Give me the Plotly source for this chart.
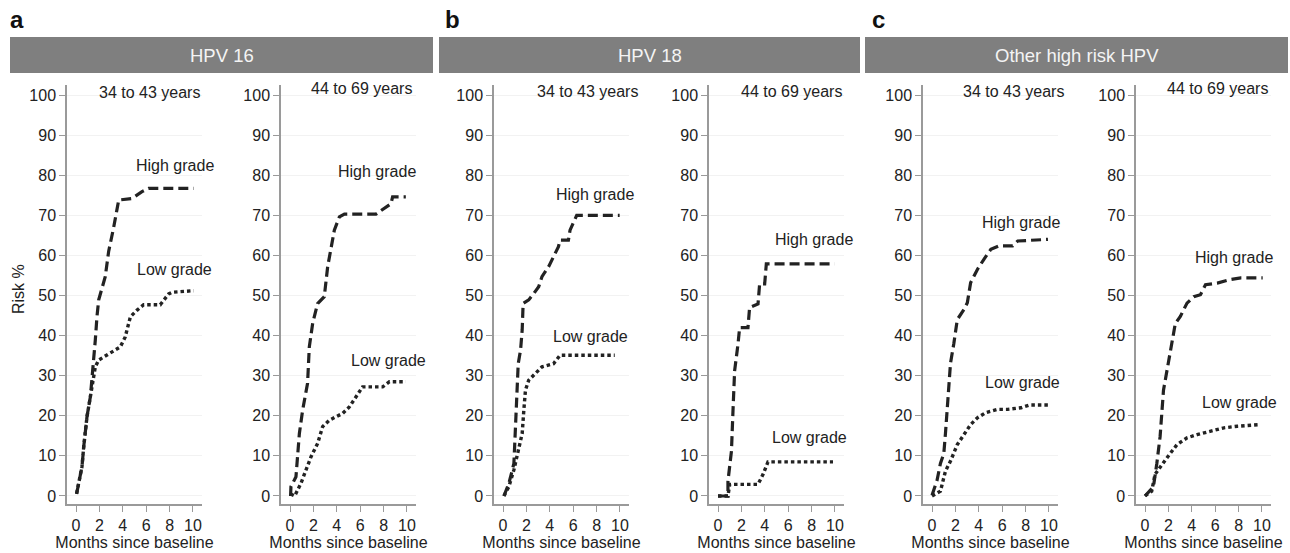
import plotly.graph_objects as go

# ---------------- data ----------------
panel_letters = ["a", "b", "c"]
panel_titles = ["HPV 16", "HPV 18", "Other high risk HPV"]
age_groups = ["34 to 43 years", "44 to 69 years"]
x_ticks = [0, 2, 4, 6, 8, 10]
y_ticks = [0, 10, 20, 30, 40, 50, 60, 70, 80, 90, 100]

# HPV 16, 34-43
hpv16_young_high_x = [0.05, 0.23, 0.51, 0.66, 0.94, 1.23, 1.51, 1.65, 1.79, 1.94, 2.5, 2.79, 3.22, 3.65, 4.79, 5.64, 6.2, 10.06]
hpv16_young_high_y = [0.5, 3.1, 7.3, 12.3, 19.8, 24.8, 33.0, 38.9, 44.7, 48.9, 54.7, 61.0, 67.0, 73.8, 74.2, 75.9, 76.7, 76.7]
hpv16_young_low_x = [0.05, 0.23, 0.51, 0.66, 0.94, 1.23, 1.51, 1.65, 1.94, 2.79, 3.79, 4.2, 4.65, 5.2, 5.78, 7.2, 7.92, 8.2, 10.06]
hpv16_young_low_y = [0.6, 3.1, 7.3, 12.3, 19.8, 24.8, 29.8, 32.2, 33.9, 35.5, 37.2, 39.6, 44.7, 46.3, 47.7, 47.7, 50.4, 50.8, 51.2]
# HPV 16, 44-69
hpv16_old_high_x = [0.05, 0.08, 0.51, 0.8, 1.08, 1.5, 1.65, 1.94, 2.36, 2.93, 3.22, 3.5, 3.79, 4.22, 4.65, 7.35, 8.06, 8.63, 8.77, 9.9]
hpv16_old_high_y = [0.0, 2.3, 4.8, 15.6, 21.4, 28.1, 37.2, 43.1, 48.0, 49.7, 57.2, 62.2, 66.3, 69.6, 70.3, 70.3, 71.7, 72.9, 74.6, 74.6]
hpv16_old_low_x = [0.05, 0.4, 0.94, 1.37, 1.8, 2.36, 2.79, 3.36, 4.5, 5.07, 5.64, 6.2, 7.92, 8.5, 9.9]
hpv16_old_low_y = [0.5, 0.0, 3.2, 6.5, 9.8, 13.1, 17.3, 18.9, 20.6, 22.2, 24.7, 27.2, 27.2, 28.5, 28.5]
# HPV 18, 34-43
hpv18_young_high_x = [0.08, 0.51, 0.93, 1.07, 1.21, 1.3, 1.5, 1.64, 1.72, 2.2, 2.63, 3.05, 3.33, 3.9, 4.32, 4.74, 4.88, 5.59, 5.73, 6.16, 6.3, 9.97]
hpv18_young_high_y = [0.0, 3.2, 8.1, 17.3, 28.1, 33.0, 36.4, 41.4, 48.0, 48.9, 50.5, 52.2, 54.7, 57.2, 59.7, 62.2, 63.8, 63.8, 66.3, 68.8, 70.0, 70.0]
hpv18_young_low_x = [0.08, 0.51, 0.93, 1.36, 1.64, 1.78, 1.92, 2.2, 2.77, 3.33, 4.32, 4.88, 9.55]
hpv18_young_low_y = [0.0, 2.4, 6.5, 11.5, 15.6, 21.4, 26.4, 28.9, 30.6, 32.2, 33.0, 35.1, 35.1]
# HPV 18, 44-69
hpv18_old_high_x = [0.0, 0.85, 0.85, 1.15, 1.28, 1.42, 1.71, 1.85, 2.56, 2.7, 3.42, 3.56, 3.99, 4.13, 9.97]
hpv18_old_high_y = [0.0, 0.0, 3.7, 11.2, 21.2, 31.2, 37.9, 42.0, 42.0, 47.0, 47.9, 52.9, 52.9, 57.9, 57.9]
hpv18_old_low_x = [0.0, 0.85, 1.0, 3.42, 3.85, 4.13, 4.27, 9.83]
hpv18_old_low_y = [0.0, 0.0, 2.9, 2.9, 5.4, 7.9, 8.5, 8.5]
# Other high risk HPV, 34-43
other_young_high_x = [0.0, 0.43, 0.72, 1.01, 1.15, 1.44, 1.58, 1.87, 2.16, 2.73, 3.02, 3.3, 3.88, 4.45, 5.03, 5.75, 6.9, 7.33, 9.91]
other_young_high_y = [0.2, 3.9, 8.1, 10.6, 15.6, 28.1, 33.1, 38.1, 44.0, 46.5, 48.2, 53.2, 56.5, 59.1, 61.5, 62.4, 62.4, 63.6, 64.0]
other_young_low_x = [0.0, 0.72, 1.15, 1.58, 2.16, 2.73, 3.3, 3.88, 4.6, 5.6, 6.47, 7.62, 8.34, 9.91]
other_young_low_y = [0.0, 1.2, 6.2, 8.7, 12.8, 15.3, 17.8, 19.5, 20.8, 21.6, 21.6, 22.0, 22.7, 22.7]
# Other high risk HPV, 44-69
other_old_high_x = [0.0, 0.72, 1.01, 1.29, 1.58, 1.87, 2.16, 2.59, 3.02, 3.59, 4.17, 4.74, 5.17, 6.18, 7.33, 8.19, 10.06]
other_old_high_y = [0.0, 2.3, 8.1, 14.8, 26.4, 31.4, 36.4, 43.0, 44.8, 48.1, 49.7, 50.2, 52.7, 53.1, 54.0, 54.4, 54.4]
other_old_low_x = [0.0, 0.57, 0.86, 1.29, 1.87, 2.73, 3.59, 4.45, 5.6, 6.75, 7.9, 9.77]
other_old_low_y = [0.0, 1.2, 5.4, 7.0, 9.5, 12.8, 14.5, 15.3, 16.2, 17.0, 17.4, 17.8]

series = [
    (hpv16_young_high_x, hpv16_young_high_y, hpv16_young_low_x, hpv16_young_low_y),
    (hpv16_old_high_x, hpv16_old_high_y, hpv16_old_low_x, hpv16_old_low_y),
    (hpv18_young_high_x, hpv18_young_high_y, hpv18_young_low_x, hpv18_young_low_y),
    (hpv18_old_high_x, hpv18_old_high_y, hpv18_old_low_x, hpv18_old_low_y),
    (other_young_high_x, other_young_high_y, other_young_low_x, other_young_low_y),
    (other_old_high_x, other_old_high_y, other_old_low_x, other_old_low_y),
]

# label positions (data coords in each subplot)
age_label_pos = [(6.3, 100.7), (6.15, 101.7), (7.2, 101), (6.25, 101), (7.0, 101), (6.2, 101.7)]
high_label_pos = [(8.45, 82.5), (7.45, 81.0), (7.9, 75.3), (8.2, 64.0), (7.6, 68.3), (7.6, 59.6)]
low_label_pos = [(8.45, 56.6), (8.4, 33.9), (7.45, 39.9), (7.8, 14.7), (7.7, 28.2), (8.1, 23.2)]

# ---------------- layout helpers ----------------
W, H = 1290, 553
FONT = "Liberation Sans, Arial, Helvetica, sans-serif"
TXT = "#222222"
AX = "#9a9a9a"
FS = 16

def px(x):
    return x / W

def py(y):
    return 1 - y / H

sub_left = [67, 281, 494, 709, 923, 1136]
sub_w = 135
y_top_px, y_bot_px = 85, 504

fig = go.Figure()
layout = dict(
    width=W, height=H,
    margin=dict(l=0, r=0, t=0, b=0),
    paper_bgcolor="white", plot_bgcolor="white",
    showlegend=False,
    font=dict(family=FONT, color=TXT, size=FS),
)
annotations = []
shapes = []

for i, (hx, hy, lx, ly) in enumerate(series):
    n = "" if i == 0 else str(i + 1)
    xa, ya = "x" + n, "y" + n
    fig.add_trace(go.Scatter(x=hx, y=hy, xaxis=xa, yaxis=ya, mode="lines",
                             line=dict(color=TXT, width=3.2, dash="10px,5px"),
                             hoverinfo="skip"))
    fig.add_trace(go.Scatter(x=lx, y=ly, xaxis=xa, yaxis=ya, mode="lines",
                             line=dict(color=TXT, width=3.4, dash="3.5px,3px"),
                             hoverinfo="skip"))
    layout["xaxis" + n] = dict(
        domain=[px(sub_left[i]), px(sub_left[i] + sub_w)],
        range=[-0.77, 10.77], anchor=ya, tickvals=x_ticks,
        showline=True, linecolor=AX, linewidth=1.5,
        ticks="outside", ticklen=6, tickwidth=1.3, tickcolor=AX,
        showgrid=False, zeroline=False,
        tickfont=dict(size=FS, color=TXT, family=FONT),
        title=dict(text="Months since baseline", standoff=3,
                   font=dict(size=FS, color=TXT, family=FONT)),
    )
    layout["yaxis" + n] = dict(
        domain=[py(y_bot_px), py(y_top_px)],
        range=[-2, 102.5], anchor=xa, tickvals=y_ticks,
        showline=True, linecolor=AX, linewidth=1.5,
        ticks="outside", ticklen=6, tickwidth=1.3, tickcolor=AX,
        showgrid=True, gridcolor="#f2f2f2", gridwidth=1, zeroline=False,
        tickfont=dict(size=FS, color=TXT, family=FONT),
    )
    ax_, ay_ = age_label_pos[i]
    annotations.append(dict(x=ax_, y=ay_, xref=xa, yref=ya, text=age_groups[i % 2],
                            xanchor="center", yanchor="middle",
                            showarrow=False, font=dict(size=FS, color=TXT)))
    hx_, hy_ = high_label_pos[i]
    annotations.append(dict(x=hx_, y=hy_, xref=xa, yref=ya, text="High grade",
                            xanchor="center", yanchor="middle",
                            showarrow=False, font=dict(size=FS, color=TXT)))
    lx_, ly_ = low_label_pos[i]
    annotations.append(dict(x=lx_, y=ly_, xref=xa, yref=ya, text="Low grade",
                            xanchor="center", yanchor="middle",
                            showarrow=False, font=dict(size=FS, color=TXT)))

# panel headers
header_x = [(10, 433), (439, 860), (865, 1288)]
letter_x = [17, 452, 878]
for j in range(3):
    x0, x1 = header_x[j]
    shapes.append(dict(type="rect", xref="paper", yref="paper",
                       x0=px(x0), x1=px(x1), y0=py(73), y1=py(37),
                       fillcolor="#7f7f7f", line=dict(width=0), layer="below"))
    annotations.append(dict(x=px((x0 + x1) / 2), y=py(56), xref="paper", yref="paper",
                            xanchor="center", yanchor="middle",
                            text=panel_titles[j], showarrow=False,
                            font=dict(size=18.5, color="#f4f4f4")))
    annotations.append(dict(x=px(letter_x[j]), y=py(19), xref="paper", yref="paper",
                            xanchor="center", yanchor="middle",
                            text="<b>" + panel_letters[j] + "</b>", showarrow=False,
                            font=dict(size=24, color="#111111")))

# y axis title
annotations.append(dict(x=px(18), y=py(289), xref="paper", yref="paper", text="Risk %",
                        xanchor="center", yanchor="middle",
                        textangle=-90, showarrow=False, font=dict(size=FS, color=TXT)))

layout["annotations"] = annotations
layout["shapes"] = shapes
fig.update_layout(**layout)
fig.write_html("out.html",
               config={"displayModeBar": False},
               post_script="document.body.style.margin='0';document.body.style.padding='0';"
                           "document.body.style.overflow='hidden';")
